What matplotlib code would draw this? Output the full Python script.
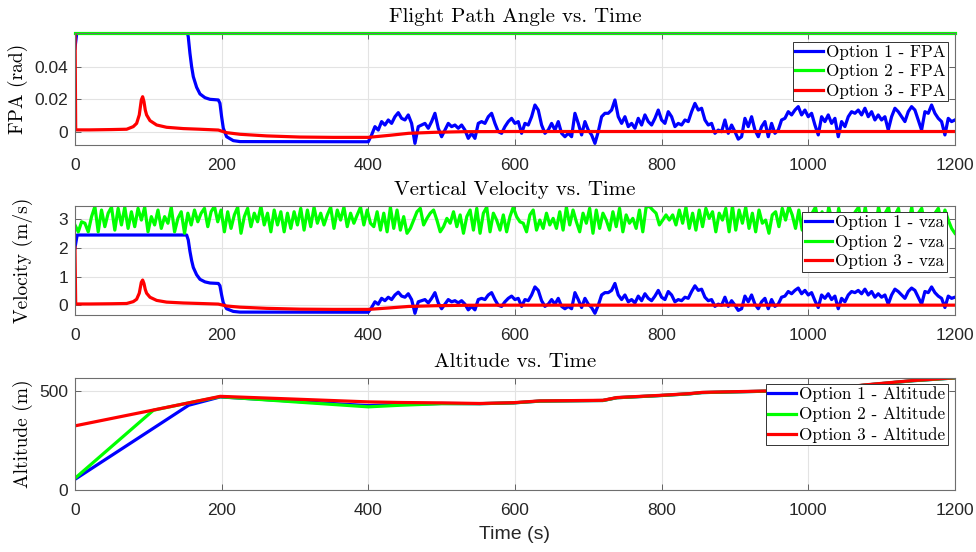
import numpy as np
import matplotlib
matplotlib.use("Agg")
import matplotlib.pyplot as plt

plt.rcParams['font.family'] = ['Liberation Sans', 'DejaVu Sans']
SERIF = 'cmr10'

# ---------------- data ----------------
# Flight path angle, option 1 (smooth part before the noisy phase)
t_fpa1 = [0, 3, 152.3, 154.5, 156.8, 159.1, 161.4, 165.9, 170.5, 177.3, 184.1,
          195.5, 197.7, 200, 202.3, 206.8, 215.9, 225, 398]
fpa1 = [0.0513, 0.0628, 0.0628, 0.0584, 0.0482, 0.0400, 0.0338, 0.0273, 0.0232,
        0.0209, 0.0199, 0.0195, 0.0175, 0.0092, 0.0021, -0.0031, -0.0055,
        -0.0061, -0.0062]
# option 1, noisy phase 400..1200 s
fpa1_noise = [
    -0.0062, -0.0020, 0.0031, 0.0010, 0.0062, 0.0041, 0.0072, 0.0051, 0.0092,
    0.0117, 0.0082, 0.0072, 0.0103, 0.0051, -0.0072, 0.0031, 0.0041, 0.0051,
    0.0021, 0.0062, 0.0113, 0.0021, -0.0031, 0.0010, 0.0051, 0.0031, 0.0041,
    0.0021, 0.0041, 0.0010, -0.0041, -0.0010, -0.0041, 0.0051, 0.0062, 0.0051,
    0.0092, 0.0113, 0.0051, 0.0000, -0.0010, 0.0031, 0.0062, 0.0082, 0.0051,
    0.0062, -0.0010, 0.0051, 0.0041, 0.0092, 0.0164, 0.0133, 0.0041, -0.0010,
    0.0010, 0.0051, 0.0010, 0.0062, -0.0010, -0.0031, -0.0010, -0.0031, 0.0113,
    0.0051, -0.0020, 0.0062, 0.0010, -0.0020, -0.0072, 0.0000, 0.0092, 0.0113,
    0.0113, 0.0133, 0.0195, 0.0092, 0.0051, 0.0092, 0.0031, 0.0051, 0.0021,
    0.0082, 0.0041, 0.0103, 0.0062, 0.0041, 0.0082, 0.0133, 0.0072,
    0.0051, 0.0123, 0.0092, 0.0031, 0.0051, 0.0041, 0.0072, 0.0062, 0.0123,
    0.0174, 0.0133, 0.0144, 0.0072, 0.0041, 0.0051, -0.0010, 0.0010, 0.0000,
    0.0072, -0.0010, 0.0041, 0.0000, -0.0046, -0.0031, 0.0082, 0.0031, 0.0092,
    0.0010, -0.0031, 0.0031, 0.0062, -0.0031, 0.0051, -0.0010, 0.0010, 0.0072,
    0.0082, 0.0123, 0.0103, 0.0133, 0.0154, 0.0103, 0.0133, 0.0092, 0.0113,
    0.0041, -0.0020, 0.0092, 0.0062, 0.0103, 0.0051, 0.0082, -0.0031, 0.0062,
    0.0031, 0.0092, 0.0123, 0.0113, 0.0133, 0.0103, 0.0144, 0.0092, 0.0123,
    0.0072, 0.0103, 0.0072, 0.0092, 0.0010, 0.0092, 0.0144, 0.0123, 0.0092,
    0.0062, 0.0123, 0.0154, 0.0133, 0.0072, 0.0010, 0.0123, 0.0113, 0.0164,
    0.0113, 0.0082, 0.0062, -0.0020, 0.0082, 0.0062, 0.0072]
airspeed1 = 39.0   # m/s, vza = airspeed * fpa for option 1

# option 2: FPA held constant, vertical speed noisy
fpa2 = 0.0605
vz2 = [
    2.80, 2.56, 2.91, 2.86, 2.56, 3.09, 3.44, 2.56, 3.32, 2.74, 3.21, 3.42,
    2.62, 3.38, 2.80, 3.42, 2.68, 3.26, 2.74, 3.38, 2.97, 3.42, 2.56, 3.09,
    2.80, 3.32, 2.68, 3.09, 2.86, 3.42, 2.56, 3.03, 3.26, 2.51, 3.21, 2.80,
    3.32, 2.91, 3.21, 3.38, 2.74, 3.26, 3.45, 2.91, 3.32, 2.56, 3.26, 2.68,
    3.15, 3.42, 2.51, 3.09, 3.38, 2.74, 3.21, 2.91, 3.45, 2.80, 3.21, 2.56,
    3.32, 2.80, 3.26, 2.56, 3.21, 2.68, 3.26, 2.80, 3.38, 2.62, 3.32, 2.74,
    3.42, 2.86, 3.21, 2.80, 3.15, 3.42, 2.68, 3.32, 2.97, 3.42, 2.74, 3.21,
    2.86, 3.15, 3.42, 2.80, 3.32, 2.86,
    2.74, 3.26, 2.62, 3.21, 2.56, 3.42, 2.68, 3.32, 2.62, 3.09, 2.51, 2.68,
    2.97, 3.26, 3.38, 2.80, 3.03, 3.21, 3.32, 2.97, 2.56, 2.74, 3.03, 2.86,
    3.26, 2.74, 3.15, 2.51, 3.09, 3.32, 2.62, 3.38, 2.51, 3.21, 3.42, 2.56,
    3.21, 2.97, 2.62, 3.15, 2.56, 3.09, 3.42, 3.09, 2.91, 2.86, 2.56, 3.15,
    3.32, 2.62, 2.97, 2.68, 3.21, 2.80, 3.03, 2.68, 3.26, 2.62, 3.42, 2.80,
    3.32, 2.91, 2.56, 3.21, 2.86, 3.38, 2.51, 3.32, 2.68, 3.21, 2.97, 2.62,
    3.26, 2.74, 3.38, 2.56, 3.15, 2.86, 3.03, 2.68, 3.32, 2.56, 3.42, 3.45,
    3.32, 3.21, 2.80, 2.97, 3.15,
    2.97, 3.15, 2.80, 3.32, 2.86, 3.42, 2.68, 3.21, 2.62, 3.32, 2.74, 3.38,
    3.03, 3.26, 2.56, 3.21, 2.97, 3.38, 2.56, 3.45, 2.62, 3.32, 2.86, 3.42,
    2.68, 3.21, 2.56, 3.32, 2.86, 2.97, 2.51, 3.15, 3.26, 2.74, 3.38, 2.97,
    3.45, 3.15, 2.68, 3.32, 2.62, 3.09, 2.68, 3.21, 3.42, 2.86, 3.26, 2.68,
    3.42, 2.97, 2.62, 3.38, 2.86, 3.15, 2.62, 3.03, 3.26, 3.42, 2.80, 3.42,
    2.74, 3.09, 2.68, 3.42, 2.91, 3.21, 3.42, 2.74, 3.15, 3.38, 2.62, 3.03,
    2.86, 3.42, 2.68, 3.21, 3.38, 2.80, 3.09, 2.62, 3.21, 3.38, 2.86, 3.32,
    2.97, 2.68, 2.51]

# option 3 (smooth)
t_opt3 = [0, 1, 20, 50, 70.5, 79.5, 84.1, 87.7, 90.5, 92.3, 94.1, 95.9, 97.7,
          102.3, 111.4, 125, 147.7, 170.5, 195.5, 206.8, 225, 261.4, 306.8,
          352.3, 400, 430, 455, 490, 530, 600, 800, 1000, 1200]
fpa3 = [0.07, 0.0011, 0.0011, 0.0013, 0.0015, 0.0031, 0.0051, 0.0103, 0.0195,
        0.0215, 0.0185, 0.0133, 0.0103, 0.0068, 0.0041, 0.0027, 0.0019, 0.0015,
        0.0010, -0.0006, -0.0016, -0.0026, -0.0033, -0.0035, -0.0035, -0.0022,
        -0.0010, -0.0004, 0.0000, 0.0001, 0.0001, 0.0001, 0.0001]
vz3 = [2.02, 0.045, 0.045, 0.053, 0.062, 0.127, 0.21, 0.42, 0.80, 0.88, 0.76,
       0.55, 0.42, 0.28, 0.17, 0.11, 0.08, 0.062, 0.041, -0.025, -0.066,
       -0.107, -0.135, -0.144, -0.144, -0.09, -0.041, -0.016, 0.0, 0.004,
       0.004, 0.004, 0.004]

# altitude (m)
t_alt = [0, 107, 155, 198, 300, 400, 443, 500, 552, 598, 634, 720, 739, 798,
         839, 855, 943, 989, 1040, 1075, 1143, 1200]
alt1 = [54, 312, 428, 470, 448, 426, 432, 437, 436, 440, 449, 452, 466, 477,
        486, 492, 499, 502, 514, 529, 552, 566]
alt2 = [59, 403, 440, 471, 445, 420, 428, 436, 436, 440, 449, 452, 466, 477,
        486, 492, 499, 502, 514, 529, 552, 566]
alt3 = [324, 404, 440, 473, 459, 445, 442, 440, 437, 441, 450, 453, 467, 478,
        487, 493, 500, 503, 515, 530, 553, 567]

xticks = [0, 200, 400, 600, 800, 1000, 1200]

# ---------------- assemble series ----------------
t_noise = np.linspace(400, 1200, len(fpa1_noise))
t1 = np.concatenate([t_fpa1, t_noise])
f1 = np.concatenate([fpa1, fpa1_noise])
v1 = airspeed1 * f1
t2 = np.linspace(0, 1200, len(vz2))

BLUE, GREEN, RED = '#0000ff', '#00ff00', '#ff0000'
LW = 2.3

fig = plt.figure(figsize=(9.76, 5.52), dpi=100)
L, W = 0.0768, 0.9016
ax1 = fig.add_axes([L, 0.7373, W, 0.2024])
ax2 = fig.add_axes([L, 0.4293, W, 0.1980])
ax3 = fig.add_axes([L, 0.1123, W, 0.2034])


def style(ax, yt, ylab, labx):
    ax.set_xlim(0, 1200)
    ax.set_xticks(xticks)
    ax.set_yticks(yt)
    ax.grid(True, color='#e3e3e3', lw=0.8)
    ax.set_axisbelow(True)
    ax.tick_params(direction='in', top=True, right=True, length=4,
                   width=0.6, color='#4d4d4d', labelsize=12.5,
                   labelcolor='#262626')
    ax.tick_params(axis='x', pad=9)
    ax.tick_params(axis='y', pad=5)
    for s in ax.spines.values():
        s.set_color('#6e6e6e')
        s.set_linewidth(0.8)
    ax.set_ylabel(ylab, fontfamily=SERIF, fontsize=14)
    ax.yaxis.set_label_coords(labx, 0.5)


def legend(ax, labels, dx, dy):
    leg = ax.legend(labels, loc='upper right', bbox_to_anchor=(1 - dx, 1 - dy),
                    borderaxespad=0, prop={'family': SERIF, 'size': 12.3},
                    fancybox=False, framealpha=1, edgecolor='#333333',
                    handlelength=1.6, handletextpad=0.2, labelspacing=0.25,
                    borderpad=0.15)
    leg.get_frame().set_linewidth(0.7)


# Flight path angle
ax1.plot(t1, f1, color=BLUE, lw=LW)
ax1.plot([0, 1200], [fpa2, fpa2], color=GREEN, lw=LW, clip_on=False)
ax1.plot(t_opt3, fpa3, color=RED, lw=LW)
ax1.set_ylim(-0.0082, 0.0605)
style(ax1, [0, 0.02, 0.04], 'FPA (rad)', -0.053)
ax1.set_yticklabels(['0', '0.02', '0.04'])
ax1.set_title('Flight Path Angle vs. Time', fontfamily=SERIF, fontsize=15, pad=8)
legend(ax1, ['Option 1 - FPA', 'Option 2 - FPA', 'Option 3 - FPA'],
       0.0076, 0.075)

# Vertical velocity
ax2.plot(t1, v1, color=BLUE, lw=LW)
ax2.plot(t2, vz2, color=GREEN, lw=LW)
ax2.plot(t_opt3, vz3, color=RED, lw=LW)
ax2.set_ylim(-0.34, 3.47)
style(ax2, [0, 1, 2, 3], 'Velocity (m/s)', -0.048)
ax2.set_title('Vertical Velocity vs. Time', fontfamily=SERIF, fontsize=15, pad=8)
legend(ax2, ['Option 1 - vza', 'Option 2 - vza', 'Option 3 - vza'],
       0.009, 0.058)

# Altitude
ax3.plot(t_alt, alt1, color=BLUE, lw=LW)
ax3.plot(t_alt, alt2, color=GREEN, lw=LW)
ax3.plot(t_alt, alt3, color=RED, lw=LW)
ax3.set_ylim(0, 567)
style(ax3, [0, 500], 'Altitude (m)', -0.048)
ax3.set_title('Altitude vs. Time', fontfamily=SERIF, fontsize=15, pad=8)
ax3.set_xlabel('Time (s)', fontsize=14, color='#262626', labelpad=6)
legend(ax3, ['Option 1 - Altitude', 'Option 2 - Altitude', 'Option 3 - Altitude'],
       0.008, 0.056)

fig.savefig('out.png', dpi=100)
